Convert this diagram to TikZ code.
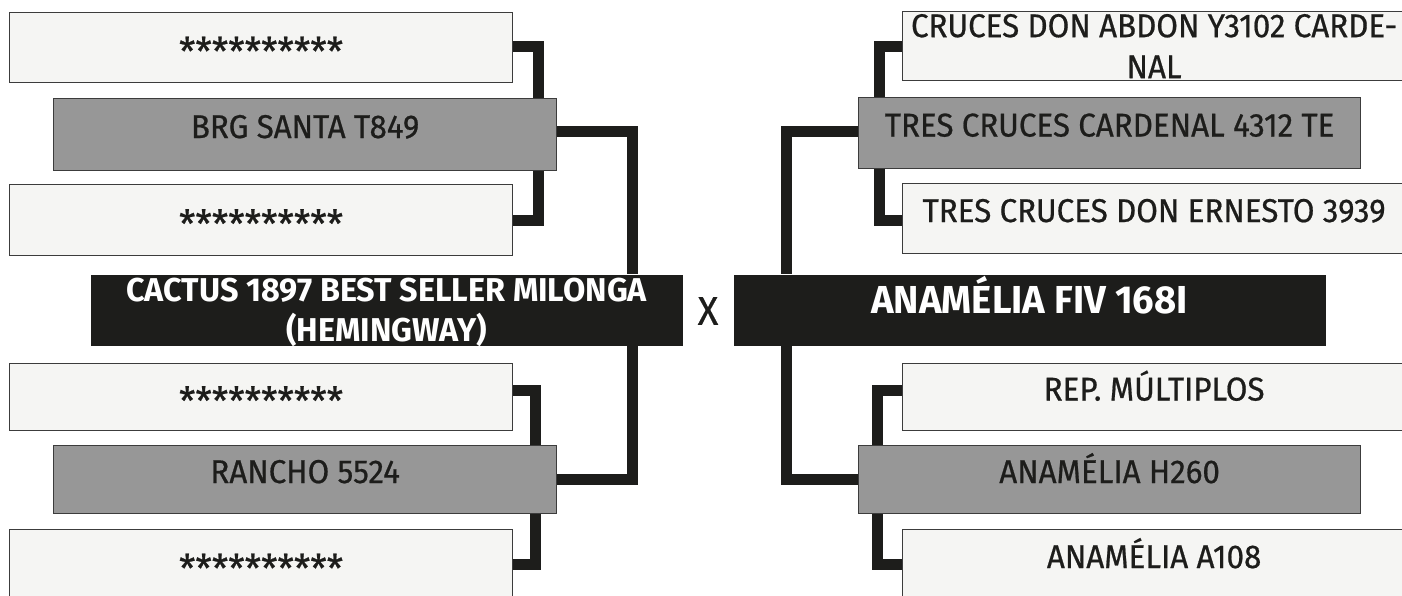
\documentclass[tikz,border=0pt]{standalone}
\usepackage{fontspec}
\setmainfont{Fira Sans}
\newfontfamily\regf{Fira Sans}[FakeStretch=0.95, FakeBold=0.6]
\newfontfamily\boldf{Fira Sans}[FakeStretch=0.98]
\definecolor{blk}{HTML}{1D1D1B}
\definecolor{gfill}{HTML}{979797}
\definecolor{wfill}{HTML}{F5F5F3}
\definecolor{bordc}{HTML}{3C3C3C}
\pgfdeclarelayer{background}
\pgfsetlayers{background,main}
\tikzset{
  box/.style={draw=bordc, line width=1.2pt, inner sep=0pt, anchor=north west,
    align=center, text=blk, font=\regf\fontsize{33}{41}\selectfont},
  oneline/.style={text height=0.69em, text depth=0pt},
  wbox/.style={box, fill=wfill},
  gbox/.style={box, fill=gfill},
  starbox/.style={wbox, oneline, font=\regf\fontsize{39}{41}\selectfont},
  bbox/.style={box, draw=none, fill=blk, text=white, font=\boldf\bfseries\fontsize{33}{40}\selectfont},
  conn/.style={draw=blk, line width=11pt}
}
\newcommand{\starrow}{\raisebox{-0.37em}{**********}}
\begin{document}
\begin{tikzpicture}[x=1pt,y=-1pt]
\useasboundingbox (0,0) rectangle (1402,596);
% left side
\node[starbox, minimum width=503, minimum height=70] (L1) at (9,12) {\starrow};
\node[gbox, oneline, minimum width=503, minimum height=72] (L2) at (53,98) {BRG SANTA T849};
\node[starbox, minimum width=503, minimum height=71] (L3) at (9,184) {\starrow};
\node[bbox, minimum width=592, minimum height=71] (C) at (90,274) {CACTUS 1897 BEST SELLER MILONGA\\\smash{(HEMINGWAY)}};
\node[starbox, minimum width=503, minimum height=67] (L4) at (9,363) {\starrow};
\node[gbox, oneline, minimum width=503, minimum height=68] (L5) at (53,445) {RANCHO 5524};
\node[starbox, minimum width=503, minimum height=70] (L6) at (9,529) {\starrow};
% middle
\node[text=blk, font=\regf\fontsize{40}{40}\selectfont, inner sep=0pt] (X) at (708,311) {X};
% right side
\node[wbox, minimum width=503, minimum height=69] (R1) at (902,11) {CRUCES DON ABDON Y3102 CARDE-\\NAL};
\node[gbox, oneline, minimum width=502, minimum height=71] (R2) at (858,97) {TRES CRUCES CARDENAL 4312 TE};
\node[wbox, oneline, minimum width=503, minimum height=70] (R3) at (902,183) {TRES CRUCES DON ERNESTO 3939};
\node[bbox, oneline, minimum width=592, minimum height=71, font=\boldf\bfseries\fontsize{39}{40}\selectfont] (A) at (733,274) {ANAMÉLIA FIV 168I};
\node[wbox, oneline, minimum width=503, minimum height=67] (R4) at (902,363) {REP. MÚLTIPLOS};
\node[gbox, oneline, minimum width=502, minimum height=68] (R5) at (858,445) {ANAMÉLIA H260};
\node[wbox, oneline, minimum width=503, minimum height=70] (R6) at (902,529) {ANAMÉLIA A108};
% connector columns
\coordinate (xa) at (538,0);
\coordinate (xa2) at (535,0);
\coordinate (xb) at (632,0);
\coordinate (xc) at (879,0);
\coordinate (xd) at (786,0);
\coordinate (xe) at (877,0);
\begin{pgfonlayer}{background}
\draw[conn] ([yshift=1.5pt]L1.east) -| (L2.north -| xa);
\draw[conn] (L3.east) -| (L2.south -| xa);
\draw[conn] ([yshift=3pt]L2.east) -| (C.north -| xb);
\draw[conn] ([yshift=7pt]L4.east) -| (L5.north -| xa2);
\draw[conn] (L6.east) -| (L5.south -| xa2);
\draw[conn] (L5.east) -| (C.south -| xb);
\draw[conn] (R1.west) -| (R2.north -| xc);
\draw[conn] ([yshift=-2pt]R3.west) -| (R2.south -| xc);
\draw[conn] ([yshift=2pt]R2.west) -| (A.north -| xd);
\draw[conn] ([yshift=7pt]R4.west) -| (R5.north -| xe);
\draw[conn] (R6.west) -| (R5.south -| xe);
\draw[conn] (R5.west) -| (A.south -| xd);
\end{pgfonlayer}
\end{tikzpicture}
\end{document}
